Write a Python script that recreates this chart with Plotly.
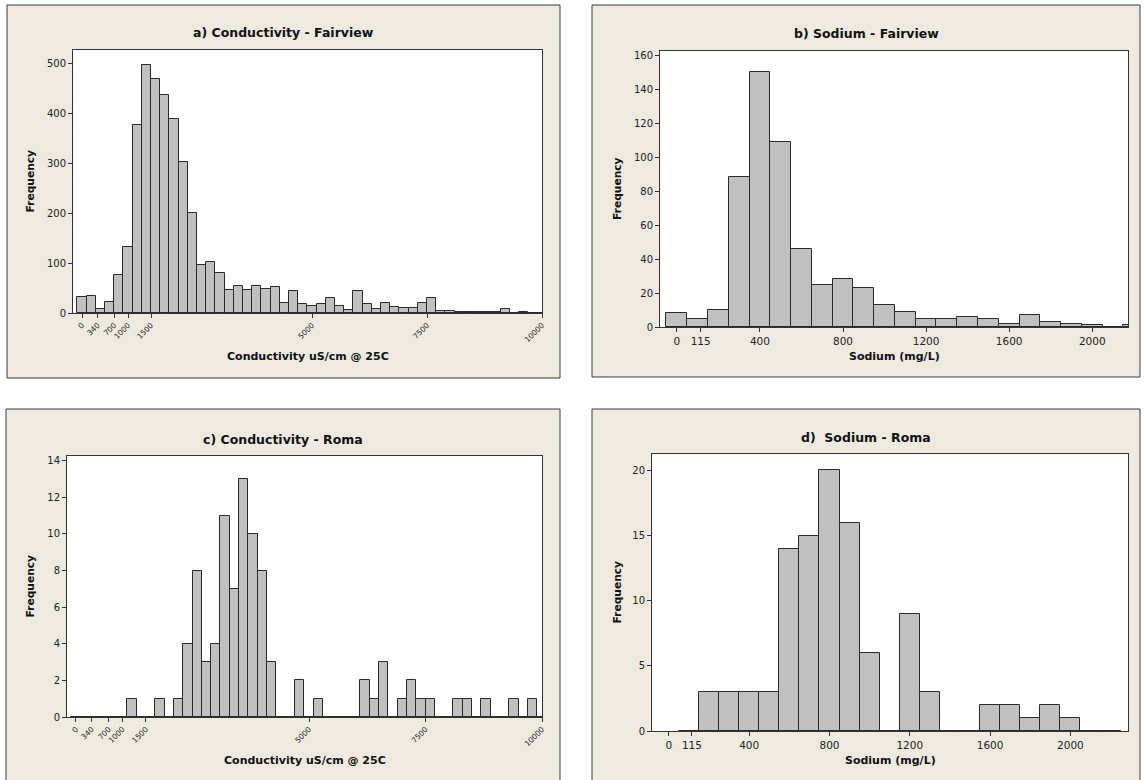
import plotly.graph_objects as go

W, H = 1146, 780

# ---------------- data ----------------
cond_bins = list(range(0, 10001, 200))          # bin centres (uS/cm)
cond_fairview = [32, 34, 8, 23, 76, 133, 377, 497, 469, 437,
                 388, 302, 201, 97, 103, 81, 47, 55, 47, 55,
                 49, 52, 20, 45, 19, 15, 19, 30, 15, 7,
                 45, 19, 9, 20, 13, 10, 10, 20, 30, 5,
                 5, 2, 2, 2, 2, 2, 9, 1, 3, 1,
                 1]
cond_roma = [0, 0, 0, 0, 0, 0, 1, 0, 0, 1,
             0, 1, 4, 8, 3, 4, 11, 7, 13, 10,
             8, 3, 0, 0, 2, 0, 1, 0, 0, 0,
             0, 2, 1, 3, 0, 1, 2, 1, 1, 0,
             0, 1, 1, 0, 1, 0, 0, 1, 0, 1,
             0]

na_bins_fairview = list(range(0, 2201, 100))     # bin centres (mg/L)
na_fairview = [8, 5, 10, 88, 150, 109, 46, 25, 28, 23,
               13, 9, 5, 5, 6, 5, 2, 7, 3, 2,
               1, 0, 1]
na_bins_roma = list(range(100, 2201, 100))
na_roma = [0, 3, 3, 3, 3, 14, 15, 20, 16, 6,
           0, 9, 3, 0, 0, 2, 2, 1, 2, 1,
           0, 0]

cond_ticks = [0, 340, 700, 1000, 1500, 5000, 7500, 10000]
cond_labels = ["0", "340", "700", "1000", "1500", "5000", "7500", "10000"]
na_ticks = [0, 115, 400, 800, 1200, 1600, 2000]
na_labels = ["0", "115", "400", "800", "1200", "1600", "2000"]

titles = ["a) Conductivity - Fairview", "b) Sodium - Fairview",
          "c) Conductivity - Roma", "d)  Sodium - Roma"]
xtitles = ["Conductivity uS/cm @ 25C", "Sodium (mg/L)",
           "Conductivity uS/cm @ 25C", "Sodium (mg/L)"]

# ---------------- style ----------------
FONT = "DejaVu Sans"
BEIGE = "#EEEAE0"
BAR = "#C0C0C0"
EDGE = "#2a2a2a"
AX = "#333333"


def px(x):
    return x / W


def py(y):
    return 1 - y / H


# plot areas in pixels: (left, top, right, bottom)
areas = [(73, 50, 542, 313), (660, 51, 1128, 327),
         (67, 456, 542, 717), (652, 454, 1128, 731)]
panels = [(7, 5, 560, 378), (592, 5, 1140, 377),
          (6, 409, 560, 800), (592, 409, 1140, 800)]
xranges = [[-196, 10000], [-81, 2172], [-193, 10000], [-84, 2287]]
yranges = [[0, 527], [0, 162.4], [0, 14.26], [0, 21.26]]
yticks = [list(range(0, 501, 100)), list(range(0, 161, 20)),
          list(range(0, 15, 2)), list(range(0, 21, 5))]

series = [(cond_bins, cond_fairview, 200), (na_bins_fairview, na_fairview, 100),
          (cond_bins, cond_roma, 200), (na_bins_roma, na_roma, 100)]

fig = go.Figure()
shapes = []
annotations = []
layout_axes = {}

for i in range(4):
    n = "" if i == 0 else str(i + 1)
    xs, ys, wd = series[i]
    fig.add_trace(go.Bar(
        x=xs, y=ys, width=wd,
        marker=dict(color=BAR, line=dict(color=EDGE, width=1)),
        xaxis="x" + n, yaxis="y" + n, hoverinfo="skip", showlegend=False))

    l, t, r, b = areas[i]
    is_cond = i in (0, 2)
    layout_axes["xaxis" + n] = dict(
        domain=[px(l), px(r)], range=xranges[i], anchor="y" + n,
        tickmode="array",
        tickvals=cond_ticks if is_cond else na_ticks,
        ticktext=cond_labels if is_cond else na_labels,
        tickangle=-45 if is_cond else 0,
        tickfont=dict(family=FONT, size=7.5 if is_cond else 10.5, color="#222"),
        showline=True, mirror=True, linecolor=AX, linewidth=1,
        ticks="outside", ticklen=4, tickcolor=AX, showgrid=False,
        zeroline=False, automargin=False, fixedrange=True)
    layout_axes["yaxis" + n] = dict(
        domain=[py(b), py(t)], range=yranges[i], anchor="x" + n,
        tickmode="array", tickvals=yticks[i],
        ticktext=[str(v) for v in yticks[i]],
        tickfont=dict(family=FONT, size=10, color="#222"),
        showline=True, mirror=True, linecolor=AX, linewidth=1,
        ticks="outside", ticklen=4, tickcolor=AX, showgrid=False,
        zeroline=False, automargin=False, fixedrange=True)

    pl, pt, pr, pb = panels[i]
    shapes.append(dict(type="rect", xref="paper", yref="paper",
                       x0=px(pl), x1=px(pr), y0=py(pb), y1=py(pt),
                       fillcolor=BEIGE, line=dict(color="#3a3a3a", width=1),
                       layer="below"))

    cx_panel = (pl + pr) / 2
    cx_plot = (l + r) / 2
    annotations.append(dict(text="<b>%s</b>" % titles[i], xref="paper", yref="paper",
                            x=px(cx_panel), y=py(t - 17), showarrow=False,
                            xanchor="center", yanchor="middle",
                            font=dict(family=FONT, size=12.5, color="#111")))
    xt_y = 357 if i < 2 else 760
    annotations.append(dict(text="<b>%s</b>" % xtitles[i], xref="paper", yref="paper",
                            x=px(cx_plot), y=py(xt_y), showarrow=False,
                            xanchor="center", yanchor="middle",
                            font=dict(family=FONT, size=11, color="#111")))
    fx = 30 if i in (0, 2) else 617
    annotations.append(dict(text="<b>Frequency</b>", xref="paper", yref="paper",
                            x=px(fx), y=py((t + b) / 2), showarrow=False,
                            textangle=-90, xanchor="center", yanchor="middle",
                            font=dict(family=FONT, size=10.7, color="#111")))

# white plot-area backgrounds drawn above the beige panels
for (l, t, r, b) in areas:
    shapes.append(dict(type="rect", xref="paper", yref="paper",
                       x0=px(l), x1=px(r), y0=py(b), y1=py(t),
                       fillcolor="white", line=dict(width=0), layer="below"))

fig.update_layout(
    template="none",
    width=W, height=H,
    margin=dict(l=0, r=0, t=0, b=0, pad=0),
    paper_bgcolor="white", plot_bgcolor="white",
    showlegend=False, bargap=0,
    shapes=shapes, annotations=annotations,
    **layout_axes)

fig.write_html("out.html",
               config={"displayModeBar": False},
               post_script="document.body.style.margin='0';document.body.style.padding='0';")
